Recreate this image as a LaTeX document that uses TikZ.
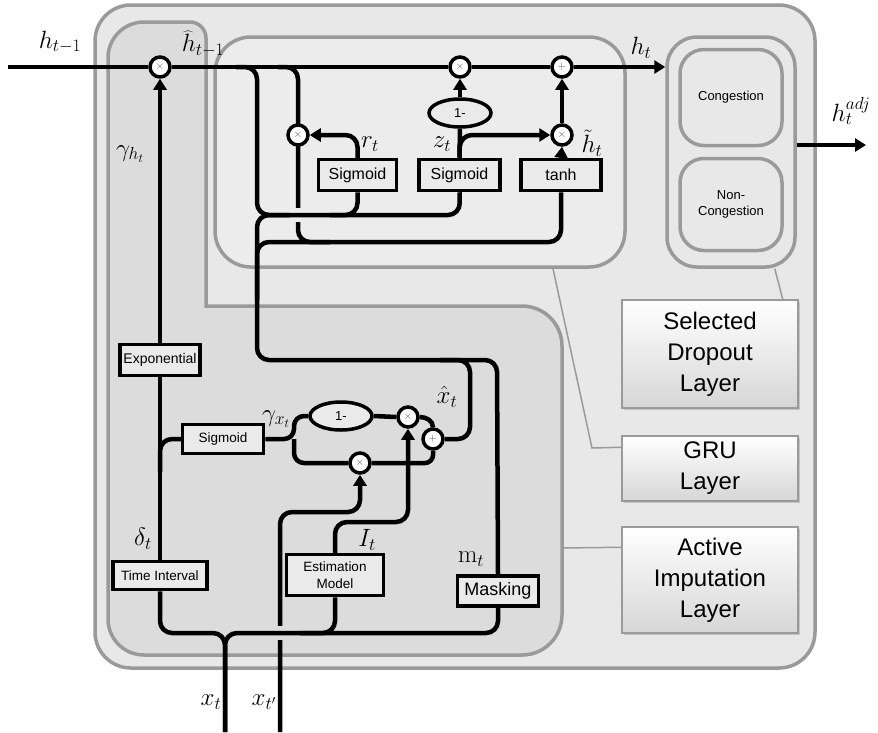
\RequirePackage{fix-cm}
\documentclass[tikz,border=0pt]{standalone}
\usepackage{fontspec}
\setsansfont{Liberation Sans}
\usetikzlibrary{arrows.meta,shapes.geometric,calc,shadows}
\pgfdeclarelayer{bg}
\pgfdeclarelayer{wires}
\pgfsetlayers{bg,wires,main}
\definecolor{outerfill}{HTML}{E8E8E8}
\definecolor{dkfill}{HTML}{DCDCDC}
\definecolor{grufill}{HTML}{ECECEC}
\definecolor{layerdraw}{HTML}{9A9A9A}
\definecolor{boxfill}{HTML}{EAEAEA}
\definecolor{symgray}{HTML}{555555}
\tikzset{
  layerline/.style={draw=layerdraw, line width=3.5pt},
  wire/.style={draw=black, line width=4.5pt},
  arr/.style={-{Triangle[length=11pt,width=13pt]}},
  blk/.style={draw=black, line width=3.5pt, fill=boxfill, inner sep=0pt, align=center},
  opc/.style={circle, draw=black, line width=3.5pt, fill=white, minimum size=20pt, inner sep=0pt, text=symgray, font=\fontsize{11}{11}\selectfont},
  onem/.style={ellipse, draw=black, line width=3.5pt, fill=boxfill, minimum width=62pt, minimum height=28pt, inner sep=0pt, font=\sffamily\fontsize{13}{13}\selectfont},
  lbl/.style={inner sep=0pt, font=\fontsize{25}{29}\selectfont},
  legend/.style={draw=layerdraw, line width=1.5pt, top color=white, bottom color=black!16, minimum width=176pt, align=center, drop shadow={shadow xshift=2pt, shadow yshift=-2pt, opacity=0.35}, font=\sffamily\fontsize{24}{31}\selectfont},
  callout/.style={draw=layerdraw, line width=1.5pt},
  clsbox/.style={draw=layerdraw, line width=3.5pt, fill=outerfill, rounded corners=24pt, minimum width=102pt, align=center, font=\sffamily\fontsize{13}{16}\selectfont}
}
\begin{document}
\begin{tikzpicture}[x=1pt,y=-1pt]
\useasboundingbox (0,0) rectangle (878,732);

% ---------- layer frames ----------
\begin{pgfonlayer}{bg}
\draw[layerline, fill=outerfill, rounded corners=36pt] (95,5) rectangle (815,668);
\draw[layerline, fill=dkfill] (206,306) [rounded corners=40pt] -- (562,306) -- (562,655) [rounded corners=36pt] -- (108,655) -- (108,22) [rounded corners=16pt] -- (206,22) -- (206,150) [sharp corners] -- cycle;
\node[draw=layerdraw, line width=3.5pt, fill=grufill, rounded corners=36pt, minimum width=410pt, minimum height=230pt] (gruBox) at (420,152) {};
\node[draw=layerdraw, line width=3.5pt, fill=outerfill, rounded corners=30pt, minimum width=128pt, minimum height=230pt] (dropG) at (731,152) {};
\end{pgfonlayer}

% ---------- operator nodes ----------
\node[opc] (mulH) at (160,67) {$\times$};
\node[opc] (mulR) at (298,135) {$\times$};
\node[opc] (mulZ) at (460,67) {$\times$};
\node[opc] (addH) at (562,67) {$+$};
\node[opc] (mulHt) at (562,135) {$\times$};
\node[onem] (oneZ) at (460,113) {1-};
\node[blk, minimum width=78pt, minimum height=31pt, font=\sffamily\fontsize{16}{16}\selectfont] (sigR) at (357.5,175) {Sigmoid};
\node[blk, minimum width=81pt, minimum height=31pt, font=\sffamily\fontsize{16}{16}\selectfont] (sigZ) at (459.5,175) {Sigmoid};
\node[blk, minimum width=80pt, minimum height=31pt, font=\sffamily\fontsize{16}{16}\selectfont] (tanhB) at (561,175) {tanh};

\node[blk, minimum width=80pt, minimum height=31pt, font=\sffamily\fontsize{14}{14}\selectfont] (expB) at (160,360) {Exponential};
\node[blk, minimum width=81pt, minimum height=29pt, font=\sffamily\fontsize{13.5}{13.5}\selectfont] (sigX) at (223,439) {Sigmoid};
\node[blk, minimum width=94pt, minimum height=28pt, font=\sffamily\fontsize{13.5}{13.5}\selectfont] (timeB) at (160,575.5) {Time Interval};
\node[blk, minimum width=97pt, minimum height=41pt, font=\sffamily\fontsize{13.5}{17}\selectfont] (estB) at (335,575) {Estimation\\Model};
\node[blk, minimum width=81pt, minimum height=30pt, font=\sffamily\fontsize{18}{18}\selectfont] (maskB) at (498,591) {Masking};
\node[onem] (oneX) at (341,416) {1-};
\node[opc] (mulXa) at (408,417) {$\times$};
\node[opc] (mulXb) at (360,463) {$\times$};
\node[opc] (addX) at (433,439) {$+$};

\node[clsbox, minimum height=96pt] (cong) at (731,97.5) {Congestion};
\node[clsbox, minimum height=92pt] (ncong) at (731,204.5) {Non-\\Congestion};

\coordinate (hin) at (8,67);
\coordinate (hadj) at (866,145);
\coordinate (xt) at (225,732);
\coordinate (xtp) at (280,732);

% ---------- wires ----------
\begin{pgfonlayer}{wires}
\draw[wire] (hin) -- (mulH);
\draw[wire] (mulH) -- (mulZ);
\draw[wire] (mulZ) -- (addH);
\draw[wire, arr] (addH) -- (dropG.west |- addH);
\draw[wire, arr] (dropG.east |- hadj) -- (hadj);

% h_{t-1} through reset gate to tanh
\draw[wire, rounded corners=12pt] (278,67) -- (298,67) -- (298,242) -- (330,242);
\draw[line width=7pt, draw=grufill] (298,208) -- (298,222);
% h_{t-1} to sigmoids
\draw[wire, rounded corners=12pt] (236,67) -- (257,67) -- (257,215) -- (460,215) -- (sigZ.south);
\draw[wire, rounded corners=12pt] (330,215) -- (357.5,215) -- (sigR.south);
% imputed input to GRU
\draw[wire, rounded corners=12pt] (addX.east) -- (470,439) -- (470,360) -- (257,360) -- (257,215) -- (290,215);
\draw[wire, rounded corners=12pt] (257,300) -- (257,242) -- (561,242) -- (tanhB.south);
\draw[wire, rounded corners=12pt] (maskB.north) -- (497,360) -- (440,360);

% gates
\draw[wire, arr, rounded corners=12pt] (sigR.north) -- (357.5,135) -- (mulR.east);
\draw[wire] (sigZ.north) -- (oneZ.south);
\draw[wire, arr] (oneZ.north) -- (mulZ.south);
\draw[wire, arr, rounded corners=12pt] (sigZ.north) -- (460,135) -- (mulHt.west);
\draw[wire, arr] (tanhB.north) -- (mulHt.south);
\draw[wire, arr] (mulHt.north) -- (addH.south);

% decay and imputation
\draw[wire] (timeB.north) -- (expB.south);
\draw[wire, arr] (expB.north) -- (mulH.south);
\draw[wire, rounded corners=12pt] (160,472) -- (160,439) -- (sigX.west);
\draw[wire, rounded corners=10pt] (sigX.east) -- (294,439) -- (294,416) -- (oneX.west);
\draw[wire, rounded corners=10pt] (294,439) -- (294,463) -- (mulXb.west);
\draw[wire] (oneX.east) -- (mulXa.west);
\draw[wire] (mulXa.east) to[out=0,in=90] (addX.north);
\draw[wire, rounded corners=8pt] (mulXb.east) -| (addX.south);
\draw[wire, arr, rounded corners=12pt] (estB.north) -- (335,522) -- (408,522) -- (mulXa.south);
\draw[wire, arr, rounded corners=12pt] (xtp) -- (280,512) -- (360,512) -- (mulXb.south);
\draw[line width=7pt, draw=dkfill] (280,626) -- (280,640);
\draw[wire, rounded corners=12pt] (xt) -- (225,633) -- (160,633) -- (timeB.south);
\draw[wire, rounded corners=12pt] (xt) -- (225,633) -- (498,633) -- (maskB.south);
\draw[wire, rounded corners=12pt] (300,633) -- (335,633) -- (estB.south);
\end{pgfonlayer}

% ---------- legend boxes ----------
\node[legend, minimum height=108pt] (selB) at (710,354) {Selected\\Dropout\\Layer};
\node[legend, minimum height=65pt] (gruB) at (710,468.5) {GRU\\Layer};
\node[legend, minimum height=106pt] (aiB) at (710,580) {Active\\Imputation\\Layer};
\draw[callout] ($(selB.north east)+(-16,0)$) -- ($(dropG.south east)+(-22,0)$);
\draw[callout] ($(gruB.north west)+(0,12)$) -- (592,448) -- ($(gruBox.south)+(133,0)$);
\draw[callout] ($(aiB.north west)+(0,21)$) -- (562,548);

% ---------- labels ----------
\node[lbl] (lhin) at (60,42) {$h_{t-1}$};
\node[lbl] (lhhat) at (203,44) {$\widehat{h}_{t-1}$};
\node[lbl] (lgh) at (130,154) {$\gamma_{h_t}$};
\node[lbl] (lr) at (370,144) {$r_t$};
\node[lbl] (lz) at (442,144) {$z_t$};
\node[lbl] (lht) at (592,143) {$\tilde{h}_t$};
\node[lbl] (lh) at (641,48) {$h_t$};
\node[lbl] (ladj) at (851,111) {$h_t^{adj}$};
\node[lbl] (lgx) at (276,419) {$\gamma_{x_t}$};
\node[lbl] (lxh) at (447,397) {$\hat{x}_t$};
\node[lbl] (lI) at (367,540) {$I_t$};
\node[lbl] (lm) at (471,559) {$\mathrm{m}_t$};
\node[lbl] (ld) at (143,539) {$\delta_t$};
\node[lbl] (lxt) at (211,702) {$x_t$};
\node[lbl] (lxtp) at (264,702) {$x_{t'}$};
\end{tikzpicture}
\end{document}
